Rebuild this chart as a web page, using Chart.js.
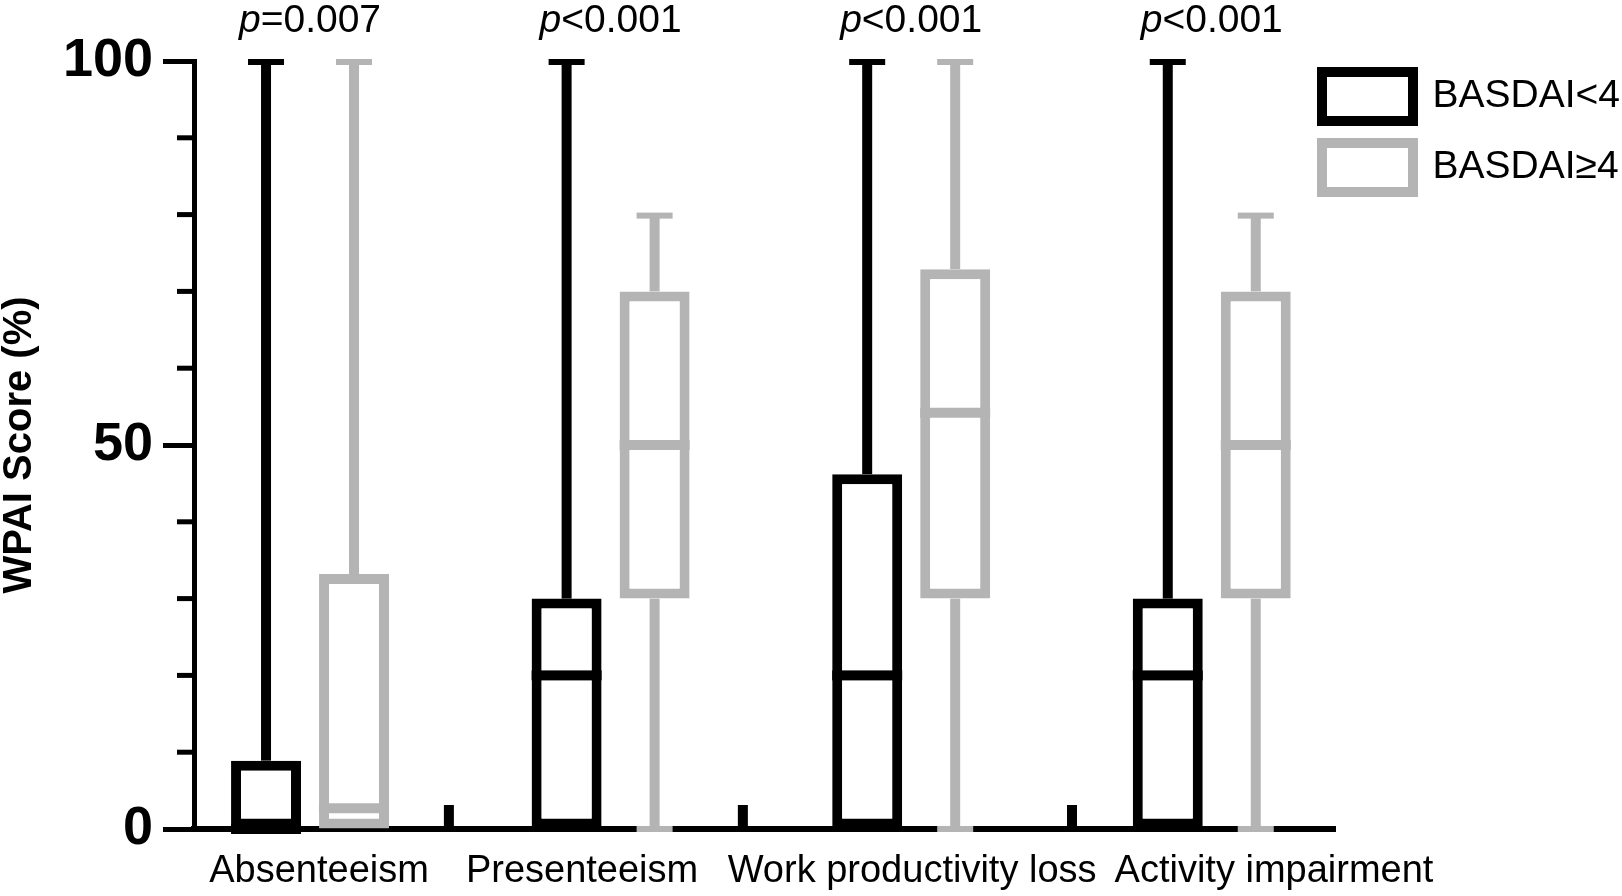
<!DOCTYPE html>
<html>
<head>
<meta charset="utf-8">
<script src="https://cdn.jsdelivr.net/npm/chart.js@4.4.1/dist/chart.umd.min.js"></script>
<style>
html, body { margin: 0; padding: 0; background: #ffffff; }
#wrap { width: 1622px; height: 896px; position: relative; }
</style>
</head>
<body>
<div id="wrap"><canvas id="c" width="1622" height="896"></canvas></div>
<script>
// ---------------- data ----------------
const categories = ['Absenteeism', 'Presenteeism', 'Work productivity loss', 'Activity impairment'];
const pValueLabels = ['p=0.007', 'p<0.001', 'p<0.001', 'p<0.001'];
const seriesNames = ['BASDAI<4', 'BASDAI\u22654'];
const yTickLabels = [0, 50, 100];

// BASDAI<4 (black)
const lowMin    = [0, 0, 0, 0];
const lowQ1     = [0, 0, 0, 0];
const lowMedian = [0, 20, 20, 20];
const lowQ3     = [8.9, 30, 46.2, 30];
const lowMax    = [100, 100, 100, 100];

// BASDAI>=4 (gray)
const highMin    = [0, 0, 0, 0];
const highQ1     = [0, 30, 30, 30];
const highMedian = [2.7, 50, 54.2, 50];
const highQ3     = [33.2, 70, 72.9, 70];
const highMax    = [100, 80, 100, 80];

// ---------------- layout / style ----------------
const FONT = '"Liberation Sans", Arial, Helvetica, sans-serif';
const BLACK = '#000000';
const GRAY = '#b4b4b4';
const X_MIN = -0.386, X_MAX = 3.41;
const LABEL_AT = [0.03, 0.905, 2.003, 3.207];   // where the category labels sit on the x scale
const SEP_AT = [0.462, 1.44, 2.535];            // small separator ticks on the x axis
const minLabelGap = Math.min(1, ...LABEL_AT.slice(1).map((v, i) => v - LABEL_AT[i]));
const CAT_PCT = 0.5855 / minLabelGap;
const BAR_PCT = 0.795;

const stats = [
  { min: lowMin, q1: lowQ1, med: lowMedian, q3: lowQ3, max: lowMax },
  { min: highMin, q1: highQ1, med: highMedian, q3: highQ3, max: highMax }
];

function boxData(q1, q3) {
  return categories.map((c, i) => ({ x: i, y: [q1[i], q3[i]] }));
}

const boxExtras = {
  id: 'boxExtras',
  afterLayout(chart, args, opts) {
    const lg = chart.legend;
    if (!lg) return;
    const newLeft = chart.chartArea.right + opts.legendDx;
    const dx = newLeft - lg.left;
    lg.left += dx;
    lg.right = chart.width;
    lg.width = lg.right - lg.left;
    const dy = opts.legendTop - lg.top;
    lg.top += dy; lg.bottom += dy;
  },
  afterDatasetsDraw(chart, args, opts) {
    const ctx = chart.ctx;
    const xs = chart.scales.x, ys = chart.scales.y;
    const area = chart.chartArea;
    ctx.save();
    chart.data.datasets.forEach((ds, di) => {
      const meta = chart.getDatasetMeta(di);
      const s = stats[di];
      ctx.fillStyle = ds.borderColor;
      meta.data.forEach((bar, i) => {
        const p = bar.getProps(['x', 'width'], true);
        const cx = p.x, w = p.width;
        const pMax = ys.getPixelForValue(s.max[i]);
        const pQ3 = ys.getPixelForValue(s.q3[i]);
        const pQ1 = ys.getPixelForValue(s.q1[i]);
        const pMin = ys.getPixelForValue(s.min[i]);
        const pMed = ys.getPixelForValue(s.med[i]);
        const ww = opts.whiskerWidth, cw = opts.capWidth, ct = opts.capThickness;
        if (s.max[i] > s.q3[i]) {
          ctx.fillRect(cx - ww / 2, pMax, ww, pQ3 - pMax);
          ctx.fillRect(cx - cw / 2, pMax - ct / 2 + 1, cw, ct);
        }
        if (s.min[i] < s.q1[i]) {
          ctx.fillRect(cx - ww / 2, pQ1, ww, pMin - pQ1);
          ctx.fillRect(cx - cw / 2, pMin - ct / 2, cw, ct);
        }
        ctx.fillRect(cx - w / 2, pMed - opts.medianWidth / 2, w, opts.medianWidth);
      });
    });
    // minor y ticks
    ctx.fillStyle = BLACK;
    ys.ticks.forEach(t => {
      if (yTickLabels.includes(t.value)) return;
      const py = ys.getPixelForValue(t.value);
      ctx.fillRect(area.left - opts.minorTickLength, py - 2.5, opts.minorTickLength, 5);
    });
    // separator ticks on the x axis
    SEP_AT.forEach(v => {
      const px = xs.getPixelForValue(v);
      ctx.fillRect(px - 5, area.bottom - opts.sepTickLength, 10, opts.sepTickLength);
    });
    // p-values
    ctx.fillStyle = BLACK;
    ctx.textBaseline = 'alphabetic';
    const fItalic = 'italic 39px ' + FONT;
    const fNormal = '39px ' + FONT;
    pValueLabels.forEach((lab, i) => {
      const head = lab.charAt(0), rest = lab.slice(1);
      ctx.font = fItalic;
      const w1 = ctx.measureText(head).width;
      ctx.font = fNormal;
      const w2 = ctx.measureText(rest).width;
      const cx = xs.getPixelForValue(i);
      const x0 = cx - (w1 + w2) / 2;
      ctx.textAlign = 'left';
      ctx.font = fItalic;
      ctx.fillText(head, x0, opts.pValueBaseline);
      ctx.font = fNormal;
      ctx.fillText(rest, x0 + w1, opts.pValueBaseline);
    });
    ctx.restore();
  }
};

Chart.defaults.color = '#000000';
Chart.defaults.font.family = FONT;

new Chart(document.getElementById('c'), {
  type: 'bar',
  data: {
    datasets: [
      {
        label: seriesNames[0],
        data: boxData(lowQ1, lowQ3),
        backgroundColor: '#ffffff',
        borderColor: BLACK,
        borderWidth: 10,
        borderSkipped: false,
        categoryPercentage: CAT_PCT,
        barPercentage: BAR_PCT
      },
      {
        label: seriesNames[1],
        data: boxData(highQ1, highQ3),
        backgroundColor: '#ffffff',
        borderColor: GRAY,
        borderWidth: 10,
        borderSkipped: false,
        categoryPercentage: CAT_PCT,
        barPercentage: BAR_PCT
      }
    ]
  },
  options: {
    responsive: false,
    animation: false,
    devicePixelRatio: 1,
    layout: { padding: { top: 61, left: 0, right: 0, bottom: 0 } },
    plugins: {
      tooltip: { enabled: false },
      legend: {
        position: 'right',
        align: 'start',
        maxWidth: 287,
        labels: {
          boxWidth: 91,
          boxHeight: 49,
          padding: 22,
          color: '#000000',
          font: { family: FONT, size: 39 }
        }
      },
      boxExtras: {
        legendDx: -35,
        legendTop: 50,
        whiskerWidth: 10,
        capWidth: 36,
        capThickness: 6,
        medianWidth: 10,
        minorTickLength: 17,
        sepTickLength: 24,
        pValueBaseline: 32
      }
    },
    scales: {
      x: {
        type: 'linear',
        bounds: 'data',
        offset: false,
        min: X_MIN,
        max: X_MAX,
        grid: { display: false, drawTicks: false, offset: false },
        border: { display: true, color: BLACK, width: 6 },
        ticks: {
          autoSkip: false,
          maxRotation: 0,
          minRotation: 0,
          padding: 20,
          color: '#000000',
          font: { family: FONT, size: 38 },
          callback: (v, i) => categories[i]
        },
        afterDataLimits: (s) => { s.min = X_MIN; s.max = X_MAX; },
        afterBuildTicks: (s) => {
          s.ticks = LABEL_AT.map(v => ({ value: v }));
          s.min = X_MIN; s.max = X_MAX;
        },
        afterFit: (s) => { s.height = 67; s.paddingLeft = 0; s.paddingRight = 0; }
      },
      y: {
        min: 0,
        max: 100,
        ticks: {
          stepSize: 10,
          padding: 10,
          color: '#000000',
          font: { family: FONT, size: 54, weight: 'bold' },
          callback: (v) => yTickLabels.includes(v) ? String(v) : ''
        },
        grid: {
          drawOnChartArea: false,
          drawTicks: true,
          tickLength: 31,
          tickWidth: 5,
          tickColor: (c) => (c.tick && yTickLabels.includes(c.tick.value)) ? BLACK : 'rgba(0,0,0,0)'
        },
        border: { display: true, color: BLACK, width: 5 },
        title: {
          display: true,
          text: 'WPAI Score (%)',
          color: '#000000',
          font: { family: FONT, size: 40, weight: 'bold', lineHeight: 1 },
          padding: { top: 0, bottom: 0 }
        },
        afterFit: (s) => { s.width = 194; }
      }
    }
  },
  plugins: [boxExtras]
});
</script>
</body>
</html>
